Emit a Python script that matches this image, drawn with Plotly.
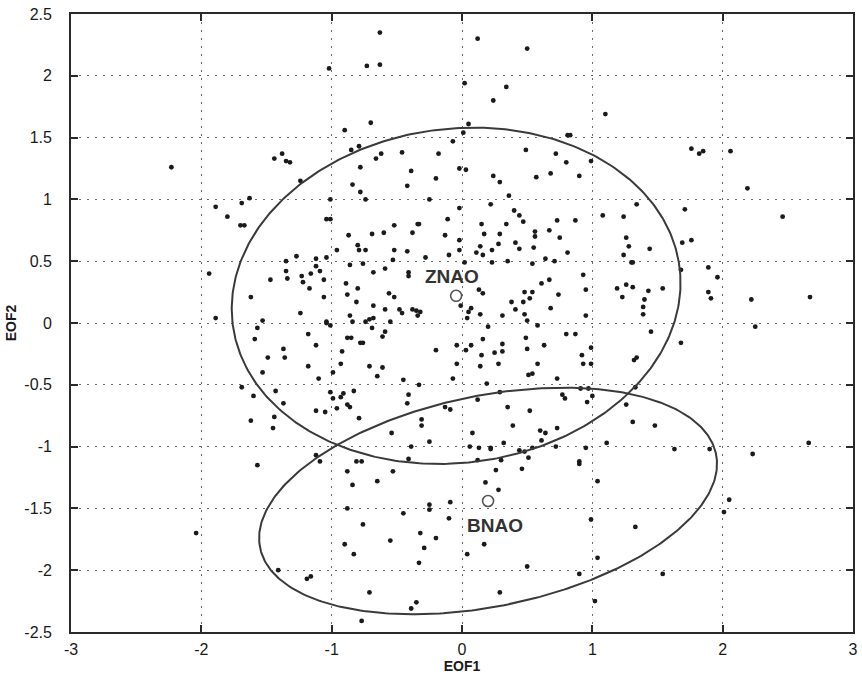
import numpy as np
import plotly.graph_objects as go

# ---- data ----
pts = [
    # upper-left / top
    (-2.23,1.26),(-1.44,1.33),(-1.38,1.37),(-1.35,1.31),(-1.32,1.30),
    (-1.02,2.06),(-0.63,2.35),(-0.73,2.08),(-0.63,2.09),(0.12,2.30),(0.50,2.22),(0.02,1.94),(0.34,1.91),
    (0.24,1.80),(-0.90,1.56),(-0.70,1.62),(0.05,1.61),(0.01,1.54),(-0.85,1.40),(-0.79,1.43),(-0.66,1.33),
    (-0.62,1.37),(-0.46,1.38),(-0.18,1.37),(-0.07,1.47),(-0.78,1.26),(-0.02,1.25),(0.03,1.24),(0.49,1.40),
    (0.72,1.37),(0.80,1.30),(0.81,1.52),(0.83,1.52),
    (1.10,1.69),(1.76,1.41),(1.82,1.37),(1.85,1.39),(2.06,1.39),(0.99,1.31),
    # left middle
    (-1.24,1.15),(-1.89,0.94),(-1.80,0.86),(-1.69,0.97),(-1.63,1.01),(-1.70,0.79),(-1.67,0.79),(-1.94,0.40),
    (-1.89,0.04),(-1.62,0.21),(-1.47,0.35),(-1.35,0.50),(-1.27,0.54),(-1.35,0.42),(-1.34,0.36),(-1.23,0.38),
    (-1.22,0.33),(-1.16,0.40),(-1.17,0.28),(-1.12,0.52),(-1.12,0.46),(-1.09,0.42),(-1.06,0.35),(-1.06,0.21),
    (-1.24,0.08),(-1.53,0.02),
    # centre
    (-1.04,0.84),(-1.01,0.84),(-0.39,1.23),(-0.20,1.17),(-0.84,1.12),(-0.42,1.11),(0.24,1.19),(0.29,1.14),
    (0.57,1.18),(0.68,1.21),(0.90,1.19),(-0.78,1.06),(-0.74,1.00),(-1.01,1.00),(-0.25,1.00),(0.36,1.03),
    (0.22,0.96),(-0.02,0.93),(0.40,0.91),(0.44,0.87),(0.47,0.82),(0.73,0.83),(0.87,0.83),(-0.11,0.84),
    (-0.52,0.79),(-0.34,0.80),(-0.33,0.80),(0.15,0.80),(0.34,0.80),(-0.87,0.71),(-0.69,0.72),(-0.60,0.73),
    (-0.38,0.73),(-0.13,0.71),(0.17,0.72),(0.29,0.72),(0.56,0.74),(0.56,0.70),(0.67,0.75),(0.75,0.69),
    (-0.80,0.63),(-0.79,0.59),(-0.74,0.59),(-0.96,0.59),(-0.52,0.59),(-0.42,0.58),(-0.02,0.67),(-0.02,0.59),
    (0.28,0.64),(0.14,0.62),(0.41,0.65),(0.44,0.60),(0.55,0.61),(0.23,0.59),(0.11,0.57),(0.16,0.55),
    (-0.10,0.55),(-0.28,0.53),(0.81,0.57),(0.64,0.52),(-1.04,0.53),(-0.53,0.51),(-0.86,0.47),(-0.76,0.48),
    (0.02,0.49),(0.23,0.49),(0.35,0.50),(0.54,0.48),(0.71,0.50),(-0.59,0.44),(-0.68,0.41),(-0.41,0.41),
    (-0.41,0.38),(0.93,0.39),(-0.89,0.32),(-0.80,0.28),(0.67,0.35),(0.61,0.32),(-0.88,0.23),(-0.56,0.24),
    (-0.52,0.21),(0.13,0.27),(0.16,0.24),(0.48,0.25),(0.54,0.25),(0.52,0.20),(0.74,0.23),(0.95,0.27),
    (-0.81,0.17),(-0.68,0.14),(0.38,0.17),(0.47,0.17),(-0.01,0.14),(0.07,0.12),(-0.59,0.11),(-0.48,0.11),
    (-0.46,0.08),(-0.38,0.11),(-0.35,0.10),(-0.32,0.09),(0.05,0.09),(-0.86,0.06),(-0.34,0.06),(0.04,0.04),
    (0.14,0.07),(0.31,0.06),(0.41,0.11),(0.48,0.07),(0.50,0.02),(0.68,0.12),(-0.68,0.04),(-0.71,0.03),
    (-0.74,0.01),(-0.84,0.01),(-0.55,0.01),(-1.04,0.01),(0.95,0.06),
    # right middle
    (2.19,1.09),(1.34,0.96),(1.71,0.92),(1.08,0.87),(1.24,0.86),(2.46,0.86),(1.26,0.69),(1.28,0.62),
    (1.44,0.60),(1.24,0.55),(1.69,0.65),(1.76,0.67),(1.30,0.49),(1.31,0.49),(1.68,0.43),(1.89,0.45),
    (1.96,0.37),(1.19,0.28),(1.26,0.31),(1.31,0.29),(1.23,0.21),(1.43,0.26),(1.54,0.28),(1.40,0.19),
    (1.39,0.13),(1.39,0.07),(1.89,0.25),(1.91,0.20),(2.22,0.19),(2.67,0.21),
    # lower left
    (-1.57,-0.04),(-1.59,-0.13),(-1.18,-0.09),(-1.12,-0.18),(-1.37,-0.21),(-1.36,-0.28),(-1.49,-0.28),
    (-1.53,-0.40),(-1.18,-0.35),(-1.10,-0.45),(-1.69,-0.52),(-1.60,-0.59),(-1.43,-0.55),(-1.37,-0.65),
    (-1.12,-0.71),(-1.05,-0.72),(-1.62,-0.79),(-1.44,-0.76),(-1.45,-0.85),(-1.12,-1.07),(-1.09,-1.12),
    (-1.57,-1.15),
    # lower centre
    (-1.04,0.00),(-1.01,-0.02),(-0.69,-0.04),(-0.59,-0.07),(-0.61,-0.11),(-0.88,-0.12),(-0.85,-0.12),
    (-0.78,-0.16),(-0.76,-0.16),(-0.92,-0.23),(-0.93,-0.33),(-0.99,-0.40),(-0.71,-0.35),(-0.61,-0.36),
    (-0.65,-0.43),(-0.45,-0.46),(-0.33,-0.50),(-0.20,-0.22),(-0.04,-0.18),(0.03,-0.22),(0.07,-0.18),
    (-0.04,-0.33),(-0.07,-0.45),(0.20,-0.03),(0.16,-0.13),(0.15,-0.26),(0.14,-0.35),(0.25,-0.24),
    (0.31,-0.17),(0.31,-0.23),(0.28,-0.33),(0.19,-0.49),(0.49,-0.12),(0.50,-0.21),(0.58,-0.02),
    (0.63,-0.18),(0.58,-0.33),(0.51,-0.42),(0.54,-0.41),(0.80,-0.09),(0.87,-0.09),(0.92,-0.26),
    (0.93,-0.33),(0.73,-0.45),(-1.01,-0.56),(-0.99,-0.61),(-0.93,-0.60),(-0.91,-0.57),(-0.83,-0.55),
    (-0.96,-0.69),(-0.88,-0.66),(-0.86,-0.68),(-0.79,-0.77),(-0.41,-0.58),(-0.42,-0.65),(-0.13,-0.68),
    (-0.09,-0.70),(0.12,-0.62),(0.29,-0.56),(0.35,-0.68),(0.52,-0.71),(0.77,-0.58),(0.79,-0.61),
    (0.91,-0.53),(0.96,-0.64),(-0.31,-0.78),(-0.31,-0.83),(-0.54,-0.89),(-0.25,-0.96),(-0.39,-1.00),
    (-0.41,-1.10),(0.08,-0.89),(0.06,-1.00),(0.13,-1.01),(0.22,-1.01),(0.22,-1.02),(0.32,-0.97),
    (0.39,-0.83),(0.60,-0.87),(0.64,-0.89),(0.61,-0.95),(0.73,-0.85),(0.72,-1.00),(0.44,-1.03),
    (0.48,-1.04),(0.54,-1.01),(0.51,-1.09),(0.30,-1.11),(0.12,-1.11),(0.26,-1.19),(0.46,-1.18),
    (0.95,-1.01),(0.90,-1.12),(0.90,-1.14),(-0.81,-1.12),(-0.77,-1.12),(-0.88,-1.20),(-0.53,-1.20),
    # lower right
    (2.25,-0.03),(1.45,-0.07),(1.68,-0.16),(0.99,-0.20),(0.99,-0.33),(1.32,-0.30),(1.34,-0.28),
    (0.97,-0.53),(1.00,-0.59),(1.33,-0.52),(1.26,-0.66),(1.31,-0.80),(1.48,-0.83),(1.11,-0.97),
    (1.63,-1.02),(1.90,-1.02),(2.23,-1.06),(2.66,-0.97),
    # bottom
    (-2.04,-1.70),(-1.41,-2.00),(-1.19,-2.07),(-1.16,-2.05),
    (-0.84,-1.31),(-0.65,-1.28),(0.18,-1.29),(0.28,-1.35),(-0.88,-1.50),(-0.45,-1.54),(-0.25,-1.47),
    (-0.25,-1.51),(-0.09,-1.45),(-0.10,-1.58),(-0.76,-1.63),(-0.32,-1.70),(-0.20,-1.74),(-0.55,-1.76),
    (-0.90,-1.79),(-0.29,-1.82),(-0.83,-1.87),(-0.33,-1.94),(0.17,-1.79),(0.04,-1.87),(0.50,-1.97),
    (0.90,-2.03),(-0.71,-2.18),(0.29,-2.18),(-0.35,-2.26),(-0.39,-2.31),(-0.77,-2.41),
    (1.04,-1.28),(2.05,-1.43),(2.01,-1.53),(0.99,-1.59),(1.33,-1.65),(1.04,-1.90),(1.54,-2.03),(1.02,-2.25),
]
eof1 = [p[0] for p in pts]
eof2 = [p[1] for p in pts]

centre_names = ["ZNAO", "BNAO"]
centre_x = [-0.045, 0.20]
centre_y = [0.22, -1.44]
# ellipse semi-axes and rotation (radians)
ell_a = [1.73, 1.79]
ell_b = [1.35, 0.85]
ell_theta = [0.157, 0.22]
label_x = [-0.08, 0.25]
label_y = [0.38, -1.64]

x_ticks = [-3, -2, -1, 0, 1, 2, 3]
y_ticks = [-2.5, -2, -1.5, -1, -0.5, 0, 0.5, 1, 1.5, 2, 2.5]


def fmt(v):
    return "%g" % v


FONT = "Liberation Sans, Arial, sans-serif"

fig = go.Figure()

fig.add_trace(go.Scatter(x=eof1, y=eof2, mode="markers",
                         marker=dict(size=4.8, color="#1a1a1a"),
                         showlegend=False, hoverinfo="skip"))

t = np.linspace(0, 2 * np.pi, 400)
for cx, cy, a, b, th in zip(centre_x, centre_y, ell_a, ell_b, ell_theta):
    ex = cx + a * np.cos(t) * np.cos(th) - b * np.sin(t) * np.sin(th)
    ey = cy + a * np.cos(t) * np.sin(th) + b * np.sin(t) * np.cos(th)
    fig.add_trace(go.Scatter(x=ex, y=ey, mode="lines",
                             line=dict(color="#3a3a3a", width=2),
                             showlegend=False, hoverinfo="skip"))

fig.add_trace(go.Scatter(x=centre_x, y=centre_y, mode="markers",
                         marker=dict(size=11, symbol="circle-open", color="#555555",
                                     line=dict(width=1.6, color="#555555")),
                         showlegend=False, hoverinfo="skip"))

for name, lx, ly in zip(centre_names, label_x, label_y):
    fig.add_annotation(x=lx, y=ly, text="<b>%s</b>" % name, showarrow=False,
                       font=dict(family=FONT, size=19, color="#333333"),
                       xanchor="center", yanchor="middle")

axis_common = dict(showline=True, linecolor="#2a2a2a", linewidth=1.8, mirror="ticks",
                   ticks="inside", ticklen=7, tickwidth=1.5, tickcolor="#2a2a2a",
                   showgrid=True, gridcolor="#6a6a6a", griddash="1.5px,6.5px", gridwidth=1.2,
                   zeroline=False,
                   tickfont=dict(family=FONT, size=16, color="#1a1a1a"))

fig.update_layout(
    width=862, height=681,
    margin=dict(l=71, r=4, t=14, b=49),
    paper_bgcolor="white", plot_bgcolor="white",
    xaxis=dict(range=[-3, 3], tickvals=x_ticks, ticktext=[fmt(v) for v in x_ticks],
               ticklabelstandoff=2,
               title=dict(text="<b>EOF1</b>", standoff=2,
                          font=dict(family=FONT, size=14, color="#1a1a1a")),
               **axis_common),
    yaxis=dict(range=[-2.5, 2.5], tickvals=y_ticks, ticktext=[fmt(v) for v in y_ticks],
               ticklabelstandoff=14,
               title=dict(text="<b>EOF2</b>", standoff=4,
                          font=dict(family=FONT, size=14, color="#1a1a1a")),
               **axis_common),
)

fig.write_html("out.html")
